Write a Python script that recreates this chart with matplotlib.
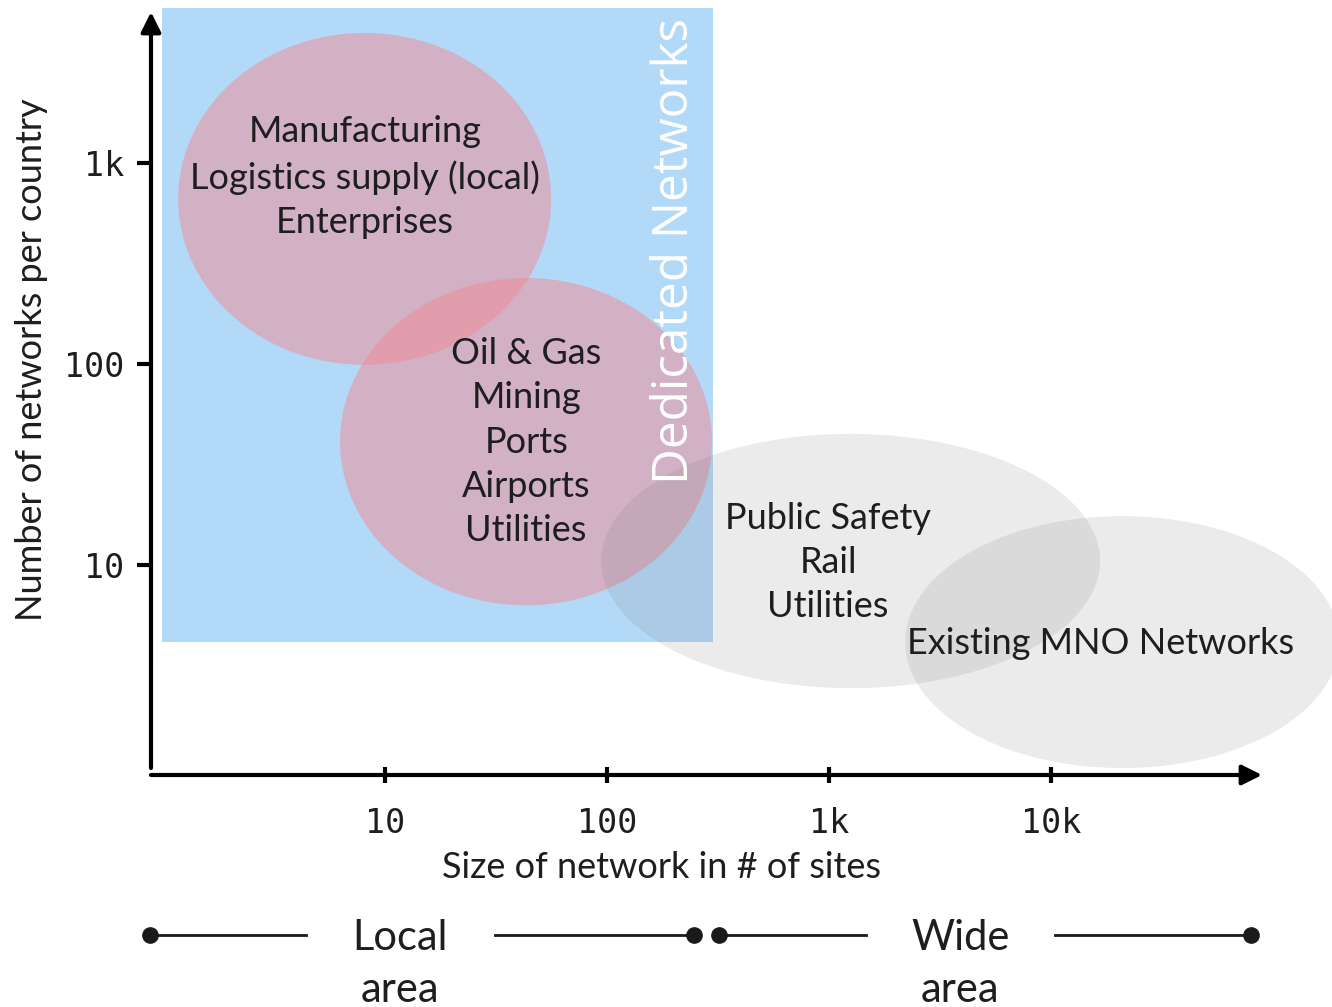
import numpy as np
import matplotlib
matplotlib.use("Agg")
import matplotlib.pyplot as plt
from matplotlib import transforms

# ---------------- data ----------------
x_ticks = [10, 100, 1000, 10000]
x_tick_labels = ["10", "100", "1k", "10k"]
y_ticks = [10, 100, 1000]
y_tick_labels = ["10", "100", "1k"]

x_limits = (0.883, 89000)
y_limits = (0.902, 5640)

# Dedicated networks region
dedicated_x = (0.99, 300)
dedicated_y = (4.14, 5900)
dedicated_label = "Dedicated Networks"
dedicated_label_pos = (202, 365)

# Segment clouds (extent in sites / networks per country)
segments = [
    "Manufacturing\nLogistics supply (local)\nEnterprises",
    "Oil & Gas\nMining\nPorts\nAirports\nUtilities",
    "Public Safety\nRail\nUtilities",
    "Existing MNO Networks",
]
seg_x_lo = [1.17, 6.27, 94, 2200]
seg_x_hi = [56, 297, 16600, 198000]
seg_y_lo = [99, 6.3, 2.44, 0.977]
seg_y_hi = [4436, 268, 44.9, 17.5]
seg_label_x = [8.1, 43.2, 989, 16600]
seg_label_y = [851, 40.9, 10.3, 4.09]
seg_kind = ["dedicated", "dedicated", "wide", "wide"]

# Coverage classes under the x axis
area_labels = ["Local\narea", "Wide\narea"]
area_lo = [0.874, 320]
area_hi = [247, 79600]
area_label_x = [11.7, 3890]

# ---------------- style ----------------
W, H, DPI = 1332, 1007, 100
TXT = "#1e1e1e"
BLUE = "#b3d9f8"
PINK = "#f18b94"
GREY = "#7a7a7a"
BODY_FONT = ["Lato", "DejaVu Sans"]
MONO_FONT = ["DejaVu Sans Mono"]

fig = plt.figure(figsize=(W / DPI, H / DPI), dpi=DPI)
fig.patch.set_facecolor("white")

ax_l, ax_r, ax_b, ax_t = 151, 1262, 775, 12
ax = fig.add_axes([ax_l / W, 1 - ax_b / H, (ax_r - ax_l) / W, (ax_b - ax_t) / H])
ax.set_xscale("log")
ax.set_yscale("log")
ax.set_xlim(*x_limits)
ax.set_ylim(*y_limits)
ax.patch.set_alpha(0)
for s in ax.spines.values():
    s.set_visible(False)

# Dedicated region
ax.fill_between(dedicated_x, dedicated_y[0], dedicated_y[1], color=BLUE,
                lw=0, zorder=1, clip_on=False)

# Ellipses (in log space)
t = np.linspace(0, 2 * np.pi, 500)
for lo_x, hi_x, lo_y, hi_y, kind in zip(seg_x_lo, seg_x_hi, seg_y_lo, seg_y_hi, seg_kind):
    cx = (np.log10(lo_x) + np.log10(hi_x)) / 2
    rx = (np.log10(hi_x) - np.log10(lo_x)) / 2
    cy = (np.log10(lo_y) + np.log10(hi_y)) / 2
    ry = (np.log10(hi_y) - np.log10(lo_y)) / 2
    xs = 10 ** (cx + rx * np.cos(t))
    ys = 10 ** (cy + ry * np.sin(t))
    if kind == "dedicated":
        ax.fill(xs, ys, color=PINK, alpha=0.5, lw=0, zorder=2, clip_on=False)
    else:
        ax.fill(xs, ys, color=GREY, alpha=0.15, lw=0, zorder=3, clip_on=False)

for label, lx, ly in zip(segments, seg_label_x, seg_label_y):
    ax.text(lx, ly, label, ha="center", va="center", ma="center",
            fontsize=26, color=TXT, family=BODY_FONT, linespacing=1.42, zorder=5)

ax.text(*dedicated_label_pos, dedicated_label, rotation=90, ha="center", va="center",
        fontsize=35.6, color="white", family=["Open Sans", "DejaVu Sans"], zorder=5)

# Axis arrows
arrow = dict(arrowstyle="-|>", lw=3, color="black", mutation_scale=30,
             shrinkA=0, shrinkB=0)
ax.annotate("", xy=(1, 0), xytext=(0, 0), xycoords="axes fraction",
            textcoords="axes fraction", arrowprops=arrow, zorder=6,
            annotation_clip=False)
ax.annotate("", xy=(0, 1), xytext=(0, (ax_b - 768) / (ax_b - ax_t)),
            xycoords="axes fraction", textcoords="axes fraction",
            arrowprops=arrow, zorder=6, annotation_clip=False)

# Ticks
ax.set_xticks(x_ticks, x_tick_labels)
ax.set_yticks(y_ticks, y_tick_labels)
ax.minorticks_off()
ax.tick_params(axis="x", direction="inout", length=12, width=3, pad=17,
               labelsize=24, labelcolor=TXT)
ax.tick_params(axis="y", direction="out", length=10, width=3, pad=9,
               labelsize=24, labelcolor=TXT)
for lab in ax.get_xticklabels() + ax.get_yticklabels():
    lab.set_family(MONO_FONT)

ax.set_xlabel("Size of network in # of sites", fontsize=26, color=TXT,
              family=BODY_FONT, va="center")
ax.xaxis.set_label_coords((661 - ax_l) / (ax_r - ax_l), (ax_b - 868) / (ax_b - ax_t))
ax.set_ylabel("Number of networks per country", fontsize=26, color=TXT,
              family=BODY_FONT, va="center")
ax.yaxis.set_label_coords((32 - ax_l) / (ax_r - ax_l), (ax_b - 360) / (ax_b - ax_t))

# Coverage classes below the axis
bt = transforms.blended_transform_factory(ax.transData, fig.transFigure)
row_y = 1 - 935 / H
gap = 0.425  # decades of empty space around the label
for lab, lo, hi, cxl in zip(area_labels, area_lo, area_hi, area_label_x):
    c = np.log10(cxl)
    ax.plot([lo, 10 ** (c - gap)], [row_y, row_y], color="#1a1a1a", lw=2,
            transform=bt, clip_on=False)
    ax.plot([10 ** (c + gap), hi], [row_y, row_y], color="#1a1a1a", lw=2,
            transform=bt, clip_on=False)
    ax.plot([lo, hi], [row_y, row_y], ls="none", marker="o", ms=11,
            color="#1a1a1a", transform=bt, clip_on=False)
    ax.text(cxl, 1 - 919 / H, lab, transform=bt, ha="center", va="top",
            ma="center", fontsize=30, color=TXT, family=BODY_FONT,
            linespacing=1.45)

fig.savefig("out.png", dpi=DPI)
